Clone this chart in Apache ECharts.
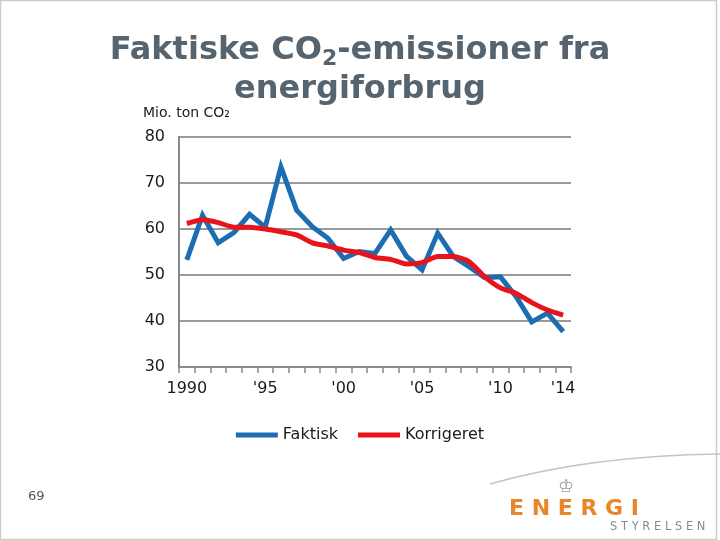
<!DOCTYPE html>
<html>
<head>
<meta charset="utf-8">
<script src="https://cdn.jsdelivr.net/npm/echarts@6/dist/echarts.min.js"></script>
<style>
  html, body { margin: 0; padding: 0; background: #ffffff; }
  #chart { width: 720px; height: 540px; }
</style>
</head>
<body>
<div id="chart"></div>
<script>
// år 1990-2014
var years = ['1990', '1991', '1992', '1993', '1994', '1995', '1996', '1997', '1998', '1999',
    '2000', '2001', '2002', '2003', '2004', '2005', '2006', '2007', '2008', '2009',
    '2010', '2011', '2012', '2013', '2014'];

// viste etiketter på x-aksen
var yearLabels = {'1990': '1990', '1995': "'95", '2000': "'00", '2005': "'05", '2010': "'10", '2014': "'14"};

var faktisk = [53.3, 63.0, 57.0, 59.2, 63.2, 60.4, 73.5, 64.1, 60.5, 58.0,
    53.6, 55.1, 54.7, 59.8, 54.1, 51.1, 59.1, 54.0, 51.8, 49.4,
    49.6, 45.3, 39.8, 41.7, 37.7];

var korrigeret = [61.2, 62.0, 61.4, 60.4, 60.4, 60.0, 59.4, 58.7, 57.0, 56.3,
    55.4, 54.9, 53.8, 53.4, 52.4, 52.7, 54.0, 54.0, 52.9, 49.6,
    47.2, 46.0, 44.0, 42.4, 41.3];

var yTicks = [30, 40, 50, 60, 70, 80];

var myChart = echarts.init(document.getElementById('chart'));

var option = {
    backgroundColor: '#ffffff',
    animation: false,
    title: {
        text: 'Faktiske CO{sub|2}-emissioner fra\nenergiforbrug',
        left: 'center',
        top: 26,
        textStyle: {
            fontFamily: 'DejaVu Sans',
            fontWeight: 'bold',
            fontSize: 32,
            lineHeight: 39,
            color: '#566470',
            rich: {
                sub: {
                    fontFamily: 'DejaVu Sans',
                    fontWeight: 'bold',
                    fontSize: 22,
                    color: '#566470',
                    verticalAlign: 'bottom',
                    padding: [14, 0, 0, 0]
                }
            }
        }
    },
    legend: {
        bottom: 92,
        left: 'center',
        itemWidth: 42,
        itemHeight: 5,
        itemGap: 20,
        icon: 'rect',
        textStyle: {
            fontFamily: 'DejaVu Sans',
            fontSize: 16,
            color: '#1a1a1a'
        },
        data: ['Faktisk', 'Korrigeret']
    },
    grid: {
        left: 179,
        right: 149,
        top: 137,
        bottom: 173,
        containLabel: false
    },
    xAxis: {
        type: 'category',
        boundaryGap: true,
        data: years,
        axisLine: {
            lineStyle: { color: '#8a8a8a', width: 2 }
        },
        axisTick: {
            show: true,
            interval: 0,
            length: 6,
            lineStyle: { color: '#8a8a8a', width: 1.5 }
        },
        axisLabel: {
            interval: function (index, value) {
                return yearLabels[value] !== undefined;
            },
            formatter: function (value) {
                return yearLabels[value];
            },
            margin: 14,
            fontFamily: 'DejaVu Sans',
            fontSize: 16,
            color: '#1a1a1a'
        },
        splitLine: { show: false }
    },
    yAxis: {
        type: 'value',
        min: yTicks[0],
        max: yTicks[yTicks.length - 1],
        interval: 10,
        name: 'Mio. ton CO₂',
        nameLocation: 'end',
        nameGap: 17,
        nameTextStyle: {
            fontFamily: 'DejaVu Sans',
            fontSize: 14,
            color: '#1a1a1a',
            align: 'left',
            padding: [0, 0, 0, -36]
        },
        axisLine: {
            show: true,
            lineStyle: { color: '#8a8a8a', width: 2 }
        },
        axisTick: { show: false },
        axisLabel: {
            margin: 14,
            fontFamily: 'DejaVu Sans',
            fontSize: 16,
            color: '#1a1a1a'
        },
        splitLine: {
            lineStyle: { color: '#9a9a9a', width: 2 }
        }
    },
    series: [
        {
            name: 'Faktisk',
            type: 'line',
            data: faktisk,
            symbol: 'none',
            color: '#1c6db2',
            lineStyle: { color: '#1c6db2', width: 5, join: 'miter' },
            z: 3
        },
        {
            name: 'Korrigeret',
            type: 'line',
            data: korrigeret,
            symbol: 'none',
            smooth: 0.2,
            color: '#e8141c',
            lineStyle: { color: '#e8141c', width: 5 },
            z: 4
        }
    ],
    graphic: [
        {
            type: 'rect',
            shape: { x: 0.5, y: 0.5, width: 716, height: 539 },
            style: { fill: 'none', stroke: '#cccccc', lineWidth: 1.5 },
            silent: true
        },
        {
            type: 'bezierCurve',
            shape: { x1: 490, y1: 484, x2: 720, y2: 454, cpx1: 560, cpy1: 464, cpx2: 640, cpy2: 455 },
            style: { fill: 'none', stroke: '#c4c4c4', lineWidth: 1.5 },
            silent: true
        },
        {
            type: 'text',
            left: 28,
            top: 490,
            style: { text: '69', fontFamily: 'DejaVu Sans', fontSize: 13, fill: '#555555' }
        },
        {
            type: 'text',
            left: 558,
            top: 478,
            style: { text: '♔', fontFamily: 'DejaVu Sans', fontSize: 18, fill: '#9a9a9a' }
        },
        {
            type: 'text',
            left: 509,
            top: 498,
            style: { text: 'E N E R G I', fontFamily: 'DejaVu Sans', fontWeight: 'bold', fontSize: 22, fill: '#e8872a' }
        },
        {
            type: 'text',
            left: 610,
            top: 521,
            style: { text: 'S T Y R E L S E N', fontFamily: 'DejaVu Sans', fontSize: 11.5, fill: '#8a8a8a' }
        }
    ]
};

myChart.setOption(option);
</script>
</body>
</html>
